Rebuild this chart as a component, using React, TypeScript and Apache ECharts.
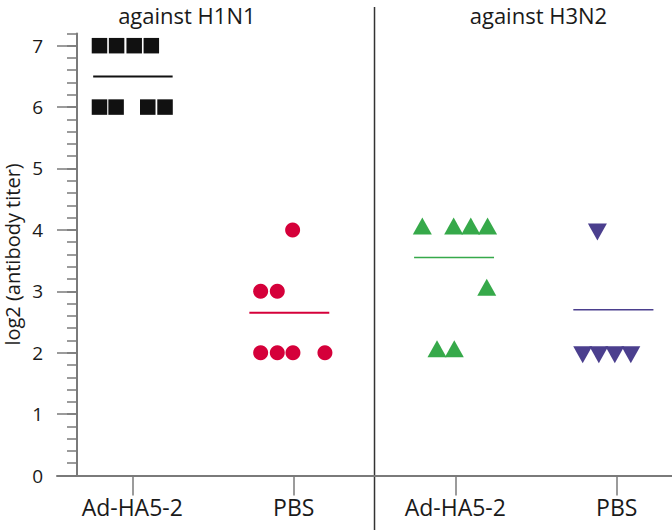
import React, { useEffect, useRef } from "react";
import * as echarts from "echarts";

// ---- data ----
const categories = ["Ad-HA5-2", "PBS", "Ad-HA5-2", "PBS"];
const categoryPositions = [1, 2, 3, 4];
const panelTitles = ["against H1N1", "against H3N2"];
const panelTitleX = [1.338, 3.515];
const dividerX = 2.5;
const yTickValues = [0, 1, 2, 3, 4, 5, 6, 7];

// Ad-HA5-2 against H1N1 (squares)
const h1AdX = [0.797, 0.903, 1.012, 1.118, 0.797, 0.9, 1.096, 1.203];
const h1AdY = [7, 7, 7, 7, 6, 6, 6, 6];
// PBS against H1N1 (circles)
const h1PbsX = [1.993, 1.795, 1.898, 1.795, 1.898, 1.995, 2.193];
const h1PbsY = [4, 3, 3, 2, 2, 2, 2];
// Ad-HA5-2 against H3N2 (triangles)
const h3AdX = [2.796, 2.99, 3.096, 3.2, 3.195, 2.887, 2.994];
const h3AdY = [4, 4, 4, 4, 3, 2, 2];
// PBS against H3N2 (inverted triangles)
const h3PbsX = [3.88, 3.789, 3.889, 3.988, 4.087];
const h3PbsY = [4, 2, 2, 2, 2];

// group mean lines
const meanValues = [6.5, 2.65, 3.55, 2.7];
const meanStarts = [0.758, 1.725, 2.745, 3.731];
const meanEnds = [1.25, 2.22, 3.24, 4.227];

const colors = ["#111111", "#d5003a", "#36a94a", "#4b3f8e"];
const meanWidths = [2, 2, 1.5, 1.5];

const FONT = "Open Sans";

const zip = (xs: number[], ys: number[]) => xs.map((x, i) => [x, ys[i]]);

export default function App() {
  const ref = useRef<HTMLDivElement>(null);

  useEffect(() => {
    if (!ref.current) return;
    const chart = echarts.init(ref.current, undefined, { renderer: "svg" });

    const axisGray = "#7a7a7a";

    const scatterSeries: any[] = [
      {
        type: "scatter",
        data: zip(h1AdX, h1AdY),
        symbol: "rect",
        symbolSize: 15.5,
        itemStyle: { color: colors[0], opacity: 1 },
      },
      {
        type: "scatter",
        data: zip(h1PbsX, h1PbsY),
        symbol: "circle",
        symbolSize: 15,
        itemStyle: { color: colors[1], opacity: 1 },
      },
      {
        type: "scatter",
        data: zip(h3AdX, h3AdY),
        symbol: "triangle",
        symbolSize: [19, 17],
        symbolOffset: [0, -4],
        itemStyle: { color: colors[2], opacity: 1 },
      },
      {
        type: "scatter",
        data: zip(h3PbsX, h3PbsY),
        symbol: "triangle",
        symbolRotate: 180,
        symbolSize: [19, 17],
        symbolOffset: [0, 2],
        itemStyle: { color: colors[3], opacity: 1 },
      },
    ];

    const meanSeries = meanValues.map((m, i) => ({
      type: "line",
      data: [
        [meanStarts[i], m],
        [meanEnds[i], m],
      ],
      showSymbol: false,
      symbol: "none",
      lineStyle: { color: colors[i], width: meanWidths[i] },
      z: 1,
    }));

    chart.setOption({
      animation: false,
      grid: {
        left: 57,
        right: 0,
        top: 33.4,
        bottom: 54.5,
        containLabel: false,
        outerBoundsMode: "none",
      },
      xAxis: {
        type: "value",
        min: 0.534,
        max: 4.342,
        axisLine: { show: true, lineStyle: { color: axisGray, width: 2 } },
        axisTick: {
          show: true,
          length: 20,
          customValues: categoryPositions,
          lineStyle: { color: axisGray, width: 1.5 },
        },
        axisLabel: {
          customValues: categoryPositions,
          formatter: (v: number) => categories[categoryPositions.indexOf(Math.round(v))] ?? "",
          fontFamily: FONT,
          fontSize: 23,
          color: "#1a1a1a",
          margin: 20,
        },
        splitLine: { show: false },
      },
      yAxis: [
        {
          type: "value",
          min: 0,
          max: 7.2,
          offset: -20,
          name: "log2 (antibody titer)",
          nameLocation: "middle",
          nameGap: 55,
          nameMoveOverlap: false,
          nameTextStyle: { fontFamily: FONT, fontSize: 20, color: "#1a1a1a" },
          axisLine: { show: true, lineStyle: { color: axisGray, width: 2 } },
          axisTick: {
            show: true,
            length: 20,
            customValues: yTickValues,
            lineStyle: { color: axisGray, width: 1.5 },
          },
          axisLabel: {
            customValues: yTickValues,
            fontFamily: FONT,
            fontSize: 19,
            color: "#1a1a1a",
            margin: 34,
          },
          splitLine: { show: false },
        },
        {
          type: "value",
          min: 0,
          max: 7.2,
          interval: 0.2,
          position: "left",
          offset: -20,
          axisLine: { show: false },
          axisTick: { show: true, length: 10, lineStyle: { color: axisGray, width: 1.5 } },
          axisLabel: { show: false },
          splitLine: { show: false },
        },
      ],
      series: [...meanSeries, ...scatterSeries],
    });

    const divX = chart.convertToPixel({ xAxisIndex: 0 }, dividerX) as number;
    const titleElems = panelTitles.map((t, i) => ({
      type: "text",
      x: chart.convertToPixel({ xAxisIndex: 0 }, panelTitleX[i]) as number,
      y: 15,
      style: {
        text: t,
        fontFamily: FONT,
        fontSize: 22,
        fill: "#1a1a1a",
        align: "center",
        verticalAlign: "middle",
      },
    }));
    chart.setOption({
      graphic: [
        {
          type: "line",
          shape: { x1: divX, y1: 7, x2: divX, y2: 530 },
          style: { stroke: "#333333", lineWidth: 1.5 },
        },
        ...titleElems,
      ],
    });

    return () => chart.dispose();
  }, []);

  return (
    <div
      ref={ref}
      style={{ position: "fixed", left: 0, top: 0, width: 672, height: 530, background: "#fff" }}
    />
  );
}
